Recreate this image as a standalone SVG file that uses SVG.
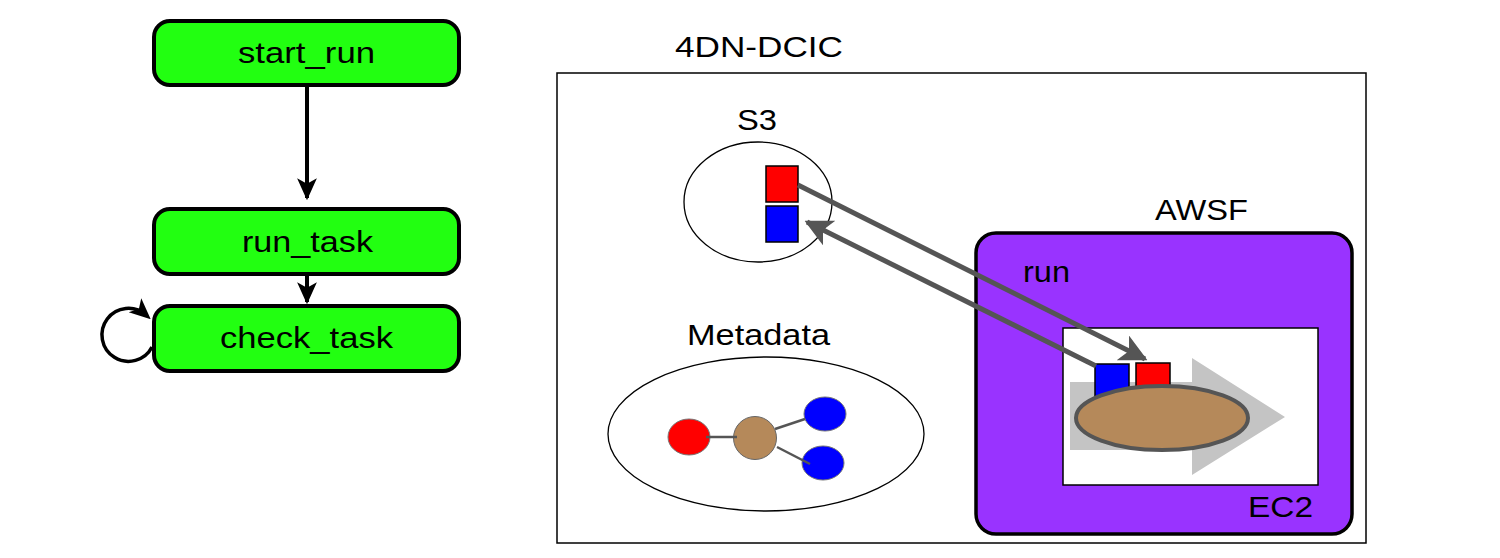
<svg xmlns="http://www.w3.org/2000/svg" width="1500" height="558" viewBox="0 0 1500 558">
<style>
.t{font-family:"Liberation Sans",Arial,sans-serif;font-size:29px;fill:#000;}
.state{fill:#22ff11;stroke:#000;stroke-width:4;}
.flow{stroke:#000;stroke-width:4;fill:none;}
.data{stroke:#555;stroke-width:5;fill:none;}
.edge{stroke:#555;stroke-width:2.5;}
</style>
<defs>
<marker id="blk" viewBox="0 0 20 20" refX="18" refY="10" markerWidth="5.5" markerHeight="5.5" markerUnits="strokeWidth" orient="auto">
<path d="M0,1 L20,10 L0,19 L5,10 Z" fill="#000"/>
</marker>
<marker id="loop" viewBox="0 0 20 20" refX="14" refY="10" markerWidth="6" markerHeight="6" markerUnits="strokeWidth" orient="auto">
<path d="M0,1 L20,10 L0,19 L5,10 Z" fill="#000"/>
</marker>
<marker id="gry" viewBox="0 0 20 20" refX="18" refY="10" markerWidth="5.5" markerHeight="5.5" markerUnits="strokeWidth" orient="auto">
<path d="M0,0 L20,10 L0,20 L5,10 Z" fill="#555"/>
</marker>
</defs>
<rect width="1500" height="558" fill="#fff"/>

<g id="start_run">
<rect class="state" x="154" y="21" width="305" height="64" rx="16"/>
<text class="t" x="238" y="63" textLength="137" lengthAdjust="spacingAndGlyphs">start_run</text>
</g>
<g id="run_task">
<rect class="state" x="154" y="209" width="305" height="65" rx="16"/>
<text class="t" x="242" y="252" textLength="131" lengthAdjust="spacingAndGlyphs">run_task</text>
</g>
<g id="check_task">
<rect class="state" x="154" y="306" width="305" height="65" rx="16"/>
<text class="t" x="220" y="348" textLength="173" lengthAdjust="spacingAndGlyphs">check_task</text>
</g>

<g id="dcic">
<rect x="557" y="73" width="809" height="470" fill="none" stroke="#000" stroke-width="1.5"/>
<text class="t" x="675" y="57" textLength="168" lengthAdjust="spacingAndGlyphs">4DN-DCIC</text>
</g>

<g id="s3">
<ellipse cx="758" cy="202" rx="74" ry="60" fill="none" stroke="#000" stroke-width="1.3"/>
<text class="t" x="737" y="130" textLength="40" lengthAdjust="spacingAndGlyphs">S3</text>
<rect x="766" y="166" width="32" height="36" fill="#f00" stroke="#000" stroke-width="1.5"/>
<rect x="766" y="206" width="32" height="36" fill="#00f" stroke="#000" stroke-width="1.5"/>
</g>

<g id="metadata">
<ellipse cx="766" cy="434" rx="158" ry="77" fill="none" stroke="#000" stroke-width="1.3"/>
<text class="t" x="687" y="345" textLength="143" lengthAdjust="spacingAndGlyphs">Metadata</text>
<ellipse cx="689" cy="437" rx="21" ry="18" fill="#f00" stroke="#777" stroke-width="1"/>
<circle cx="755" cy="438" r="21.5" fill="#b5895a" stroke="#666" stroke-width="1"/>
<ellipse cx="825" cy="414" rx="21" ry="17" fill="#00f" stroke="#777" stroke-width="1"/>
<ellipse cx="823" cy="463" rx="21" ry="17" fill="#00f" stroke="#777" stroke-width="1"/>
<line class="edge" x1="706" y1="437" x2="737" y2="437"/>
<line class="edge" x1="775" y1="429" x2="805" y2="419"/>
<line class="edge" x1="777" y1="447" x2="810" y2="464"/>
</g>

<g id="awsf">
<rect x="976" y="233" width="376" height="301" rx="20" fill="#9933ff" stroke="#000" stroke-width="3.5"/>
<text class="t" x="1155" y="220" textLength="93" lengthAdjust="spacingAndGlyphs">AWSF</text>
<text class="t" x="1023" y="282" textLength="47" lengthAdjust="spacingAndGlyphs">run</text>
</g>

<g id="ec2">
<rect x="1063" y="328" width="255" height="157" fill="#fff" stroke="#000" stroke-width="1.5"/>
<text class="t" x="1248" y="517" textLength="65" lengthAdjust="spacingAndGlyphs">EC2</text>
<path d="M1070,382 L1192,382 L1192,358 L1285,417 L1192,475 L1192,450 L1070,450 Z" fill="#c4c4c4"/>
<rect x="1095" y="364" width="34" height="40" fill="#00f" stroke="#000" stroke-width="1.5"/>
<rect x="1136" y="363" width="34" height="40" fill="#f00" stroke="#000" stroke-width="1.5"/>
<ellipse cx="1162" cy="418" rx="86" ry="32" fill="#b5895a" stroke="#555" stroke-width="4"/>
</g>

<g id="connectors">
<line class="flow" x1="307" y1="85" x2="307" y2="198" marker-end="url(#blk)"/>
<line class="flow" x1="307" y1="274" x2="307" y2="302" marker-end="url(#blk)"/>
<path d="M152,347 A26.5 26.5 0 1 1 146,315" fill="none" stroke="#000" stroke-width="3.5" marker-end="url(#loop)"/>
<line class="data" x1="798" y1="185" x2="1145" y2="359" marker-end="url(#gry)"/>
<line class="data" x1="1096" y1="366" x2="807" y2="222" marker-end="url(#gry)"/>
</g>
</svg>
